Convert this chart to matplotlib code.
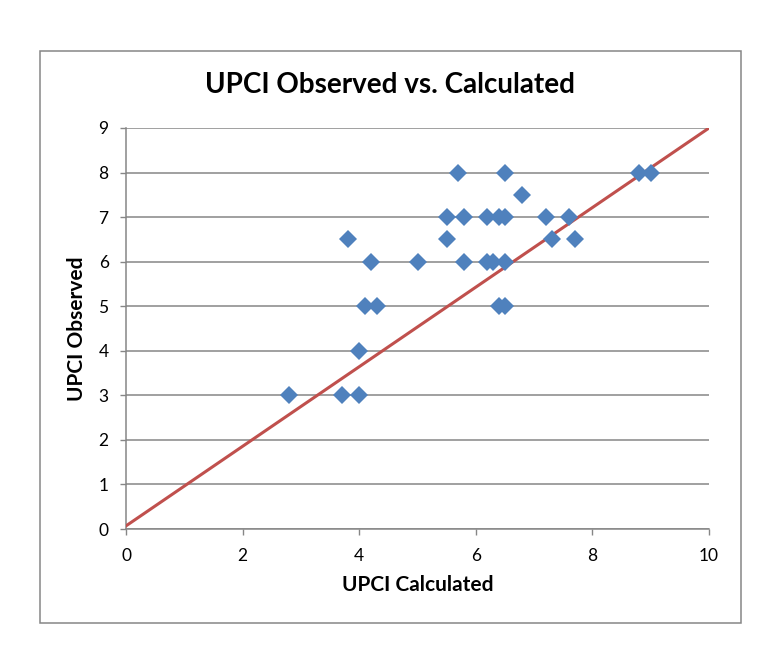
import matplotlib
matplotlib.use("Agg")
import matplotlib.pyplot as plt
from matplotlib.patches import Rectangle

# values
upci_calculated = [2.8, 3.7, 4.0, 4.0, 3.8, 4.1, 4.3, 4.2, 5.0, 5.5,
                   5.5, 5.7, 5.8, 5.8, 6.2, 6.2, 6.3, 6.4, 6.5, 6.5,
                   6.5, 6.4, 6.5, 6.8, 7.2, 7.3, 7.6, 7.7, 8.8, 9.0]
upci_observed = [3, 3, 3, 4, 6.5, 5, 5, 6, 6, 7,
                 6.5, 8, 7, 6, 7, 6, 6, 7, 7, 8,
                 6, 5, 5, 7.5, 7, 6.5, 7, 6.5, 8, 8]
fit_x = [0, 10]
fit_y = [0.07, 9.0]
x_ticks = [0, 2, 4, 6, 8, 10]
y_ticks = [0, 1, 2, 3, 4, 5, 6, 7, 8, 9]

grey = "#868686"
plt.rcParams["font.family"] = ["Lato", "DejaVu Sans"]

W, H = 777, 666
fig = plt.figure(figsize=(W / 100, H / 100), dpi=100)

# chart area frame
fig.patches.append(Rectangle((40 / W, (H - 623) / H), 701 / W, 572 / H,
                             transform=fig.transFigure, fill=False,
                             edgecolor=grey, linewidth=1.1))

ax = fig.add_axes([126 / W, (H - 529) / H, (709 - 126) / W, (529 - 128) / H])
ax.plot(fit_x, fit_y, color="#C0504D", linewidth=2.2, zorder=3)
ax.plot(upci_calculated, upci_observed, linestyle="none", marker="D",
        markersize=8.8, color="#4F81BD", markeredgewidth=0, zorder=4)

ax.set_xlim(0, 10)
ax.set_ylim(0, 9)
ax.set_xticks(x_ticks)
ax.set_yticks(y_ticks)
ax.yaxis.grid(True, color=grey, linewidth=1.1)
ax.set_axisbelow(True)
for s in ["top", "right"]:
    ax.spines[s].set_visible(False)
for s in ["left", "bottom"]:
    ax.spines[s].set_color(grey)
    ax.spines[s].set_linewidth(1.1)
ax.tick_params(axis="both", direction="out", length=4.5, width=1.0,
               color=grey, labelsize=12.5)
ax.tick_params(axis="x", pad=9)
ax.tick_params(axis="y", pad=8)

ax.set_xlabel("UPCI Calculated", fontsize=15, fontweight="bold", labelpad=8)
ax.set_ylabel("UPCI Observed", fontsize=15, fontweight="bold", labelpad=8)
fig.text(390 / W, (H - 85) / H, "UPCI Observed vs. Calculated",
         ha="center", va="center", fontsize=20, fontweight="bold")

fig.savefig("out.png", dpi=100)
